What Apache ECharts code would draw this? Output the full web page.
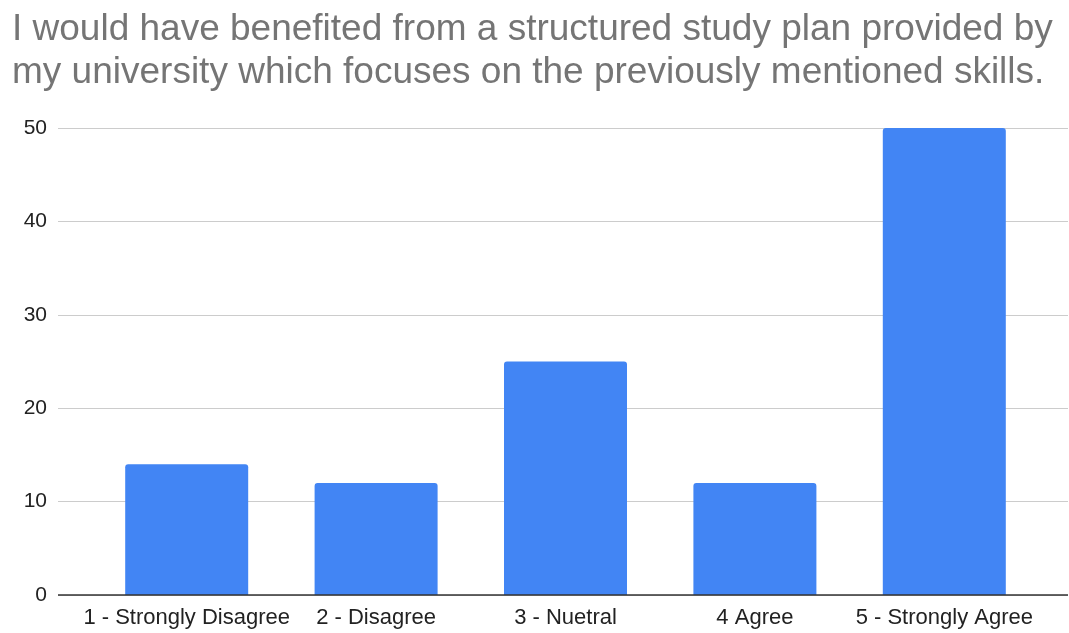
<!DOCTYPE html>
<html>
<head>
<meta charset="utf-8">
<script src="https://cdn.jsdelivr.net/npm/echarts@6/dist/echarts.min.js"></script>
<style>
  html, body { margin: 0; padding: 0; background: #fff; }
  #chart { width: 1069px; height: 633px; }
</style>
</head>
<body>
<div id="chart"></div>
<script>
const titleLines = [
  'I would have benefited from a structured study plan provided by',
  'my university which focuses on the previously mentioned skills.'
];
const categories = ['1 - Strongly Disagree', '2 - Disagree', '3 - Nuetral', '4 Agree', '5 - Strongly Agree'];
const responses = [14, 12, 25, 12, 50];
const yMin = 0, yMax = 50, yStep = 10;

const chart = echarts.init(document.getElementById('chart'), null, { renderer: 'canvas' });
const font = '"Liberation Sans", Arial, sans-serif';
const plotTop = 128, plotBottom = 633 - 595;

chart.setOption({
  animation: false,
  title: {
    text: titleLines.join('\n'),
    left: 7, top: 3,
    textStyle: { fontFamily: font, fontSize: 37, fontWeight: 'normal', color: '#757575', lineHeight: 43 }
  },
  grid: [
    // full-width frame carrying the gridlines and baseline
    { left: 58, right: 1, top: plotTop, bottom: plotBottom },
    // bar area
    { left: 92, right: 30, top: plotTop, bottom: plotBottom }
  ],
  xAxis: [
    { type: 'category', gridIndex: 0, data: [''], show: false },
    {
      type: 'category', gridIndex: 1, data: categories,
      axisLine: { show: false }, axisTick: { show: false },
      axisLabel: { fontFamily: font, fontSize: 22, color: '#222', margin: 12, interval: 0 }
    }
  ],
  yAxis: [
    {
      type: 'value', gridIndex: 0, min: yMin, max: yMax, interval: yStep,
      axisLine: { show: false }, axisTick: { show: false },
      axisLabel: { fontFamily: font, fontSize: 21, color: '#222', margin: 11 },
      splitLine: { lineStyle: { color: '#cccccc', width: 1 } }
    },
    {
      type: 'value', gridIndex: 1, min: yMin, max: yMax, interval: yStep,
      show: false, splitLine: { show: false }
    }
  ],
  series: [
    {
      // baseline at zero
      type: 'line', xAxisIndex: 0, yAxisIndex: 0, data: [],
      markLine: {
        silent: true, symbol: 'none', label: { show: false },
        lineStyle: { color: '#333', width: 1.5, type: 'solid' },
        data: [{ yAxis: 0 }]
      }
    },
    {
      type: 'bar', xAxisIndex: 1, yAxisIndex: 1,
      data: responses, barWidth: 123,
      itemStyle: { color: '#4285f4', borderRadius: [3, 3, 0, 0] },
      z: 3
    }
  ]
});
</script>
</body>
</html>
